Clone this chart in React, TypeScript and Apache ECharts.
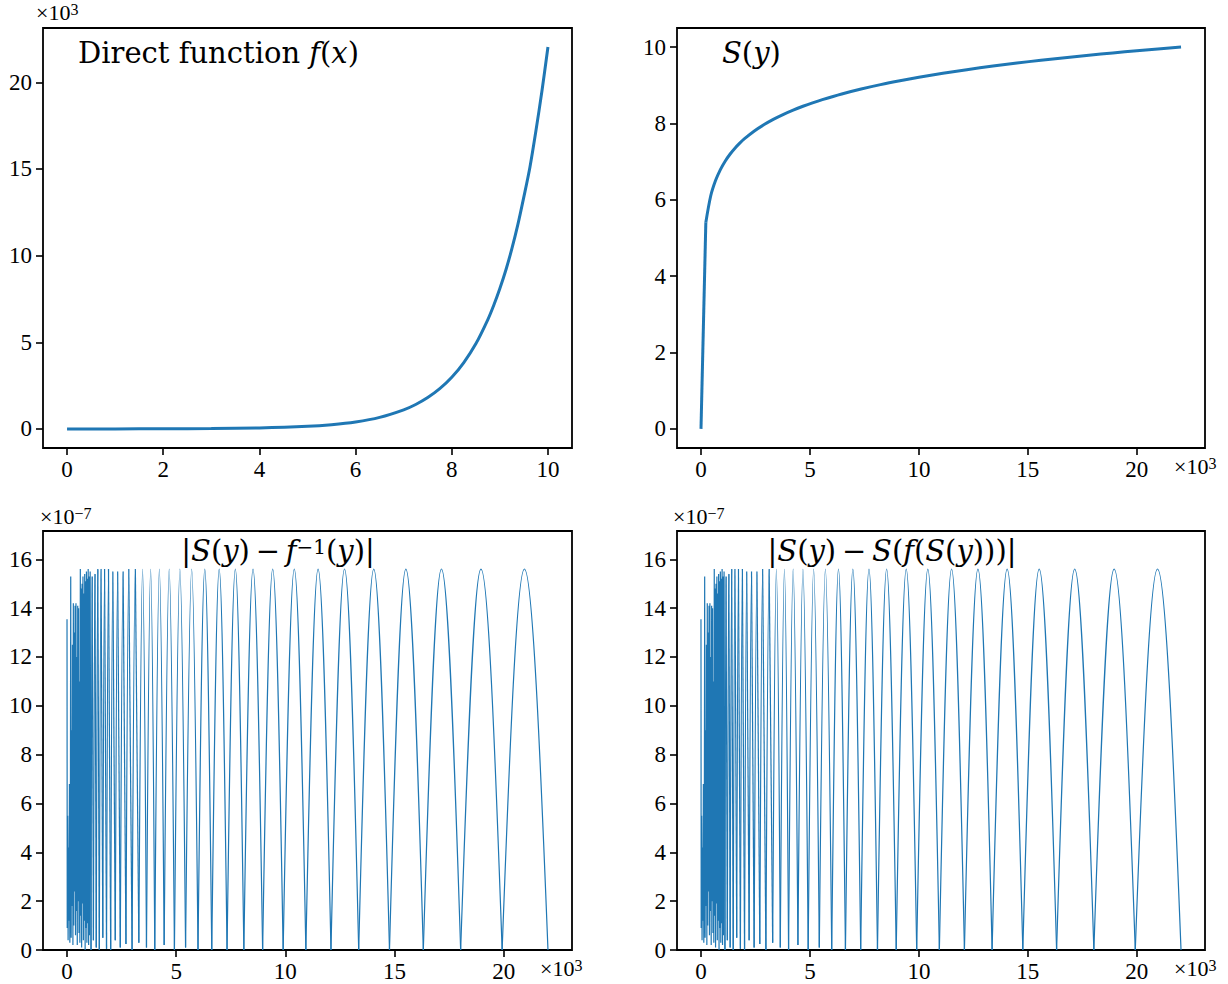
import React, { useEffect, useRef } from "react";
import * as echarts from "echarts";

const BLUE = "#1f77b4";
const SERIF = '"Liberation Serif", "DejaVu Serif", serif';
const TITLE_SERIF = '"DejaVu Serif", "Liberation Serif", serif';

// Direct function f(x); x and f(x) (in thousands)
const fxX = [0, 1, 2, 3, 4, 5, 5.5, 6, 6.5, 7, 7.25, 7.5, 7.75, 8, 8.25, 8.5, 8.75, 8.875, 9, 9.125, 9.25, 9.375, 9.5, 9.625, 9.75, 9.875, 10];
const fxY = [0.001, 0.003, 0.007, 0.02, 0.055, 0.148, 0.245, 0.403, 0.665, 1.1, 1.41, 1.81, 2.32, 2.98, 3.83, 4.91, 6.31, 7.15, 8.1, 9.17, 10.4, 11.8, 13.4, 15.1, 17.2, 19.5, 22.03];

// Inverse S(y); y in thousands. The first step is a straight jump, the rest is a smooth curve
const syJumpX = [0.001, 0.223];
const syJumpY = [0.0, 5.41];
const syX = [0.223, 0.446, 0.668, 0.891, 1.11, 1.34, 1.56, 1.78, 2.0, 2.45, 2.9, 3.34, 3.79, 4.23, 4.68, 5.12, 5.57, 6.46, 7.35, 8.24, 9.13, 10.0, 11.1, 12.2, 13.4, 14.5, 15.6, 16.7, 17.8, 18.9, 20.0, 21.1, 22.03];
const syY = [5.408, 6.1, 6.504, 6.792, 7.012, 7.2, 7.352, 7.484, 7.601, 7.804, 7.972, 8.114, 8.24, 8.35, 8.451, 8.541, 8.625, 8.773, 8.902, 9.017, 9.119, 9.21, 9.315, 9.409, 9.503, 9.582, 9.655, 9.723, 9.787, 9.847, 9.903, 9.957, 10.0];

// Error, low-y part where the samples alias (y in thousands, error in 1e-7)
const errDenseX = [0.0, 0.01, 0.03, 0.05, 0.07, 0.09, 0.11, 0.13, 0.15, 0.17, 0.19, 0.21, 0.23, 0.25, 0.27, 0.29, 0.31, 0.33, 0.35, 0.37, 0.39, 0.41, 0.43, 0.45, 0.47, 0.49, 0.51, 0.53, 0.55, 0.57, 0.59, 0.61, 0.63, 0.65, 0.67, 0.69, 0.71, 0.73, 0.75, 0.77, 0.79, 0.81, 0.83, 0.85, 0.87, 0.89, 0.91, 0.93, 0.95, 0.97, 0.99, 1.01, 1.03, 1.06, 1.1];
const errDenseY = [13.55, 0.9, 5.5, 0.4, 4.2, 1.2, 6.8, 0.3, 2.9, 15.3, 0.5, 9.0, 1.8, 12.5, 0.2, 14.2, 1.0, 13.0, 2.4, 14.1, 0.6, 14.2, 1.6, 12.0, 0.2, 14.1, 2.0, 14.0, 0.7, 11.0, 0.3, 15.6, 1.4, 14.8, 0.1, 15.0, 1.9, 15.3, 0.4, 14.6, 1.2, 15.4, 0.0, 15.1, 0.9, 15.5, 0.3, 15.2, 1.1, 15.6, 0.2, 15.3, 0.6, 15.5, 0.0];

// Error lobes: zero positions, low values there, peak positions and peak heights
const errZeros = [1.1, 1.21, 1.34, 1.48, 1.64, 1.81, 2.0, 2.21, 2.44, 2.7, 2.98, 3.29, 3.64, 4.02, 4.45, 4.92, 5.43, 6.0, 6.63, 7.33, 8.1, 8.96, 9.9, 10.94, 12.09, 13.36, 14.77, 16.32, 18.03, 19.93, 22.03];
const errZeroVal = [0.0, 0.4, 0.1, 0.0, 0.5, 0.05, 0.0, 0.4, 0.1, 0.25, 0.0, 0.3, 0.1, 0.0, 0.2, 0.0, 0.1, 0.0, 0.0, 0.0, 0.0, 0.0, 0.0, 0.0, 0.0, 0.0, 0.0, 0.0, 0.0, 0.0, 0.0];
const errPeaks = [1.15, 1.28, 1.41, 1.56, 1.72, 1.9, 2.1, 2.32, 2.57, 2.83, 3.13, 3.46, 3.83, 4.23, 4.68, 5.17, 5.71, 6.31, 6.97, 7.71, 8.52, 9.42, 10.41, 11.5, 12.71, 14.05, 15.52, 17.15, 18.96, 20.95];
const errPeakVal = [15.3, 15.4, 15.6, 15.6, 15.6, 15.6, 15.5, 15.5, 15.5, 15.6, 15.6, 15.6, 15.6, 15.6, 15.6, 15.6, 15.6, 15.6, 15.6, 15.6, 15.6, 15.6, 15.6, 15.6, 15.6, 15.6, 15.6, 15.6, 15.6, 15.6];

// Tick values
const ticksX10 = [0, 2, 4, 6, 8, 10];
const ticksK = [0, 5, 10, 15, 20];
const ticksS = [0, 2, 4, 6, 8, 10];
const ticksErr = [0, 2, 4, 6, 8, 10, 12, 14, 16];

const pairs = (xs: number[], ys: number[]) => xs.map((x, i) => [x, ys[i]]);

const lobes = errPeaks.map((p, i) => [errZeros[i], p, errZeros[i + 1], errPeakVal[i], errZeroVal[i], errZeroVal[i + 1]]);

// Each lobe is drawn as two cubic arcs: steep at the zeros, flat at the crest
const K = Math.PI / 6;
function renderLobe(_params: any, api: any) {
  const a = api.coord([api.value(0), api.value(4)]);
  const p = api.coord([api.value(1), api.value(3)]);
  const b = api.coord([api.value(2), api.value(5)]);
  const style = { stroke: BLUE, lineWidth: 1.2, fill: "none" };
  const dx1 = p[0] - a[0];
  const dx2 = b[0] - p[0];
  return {
    type: "group",
    children: [
      {
        type: "bezierCurve",
        shape: { x1: a[0], y1: a[1], cpx1: a[0] + dx1 / 3, cpy1: a[1] + (p[1] - a[1]) * K, cpx2: a[0] + (2 * dx1) / 3, cpy2: p[1], x2: p[0], y2: p[1] },
        style,
      },
      {
        type: "bezierCurve",
        shape: { x1: p[0], y1: p[1], cpx1: p[0] + dx2 / 3, cpy1: p[1], cpx2: p[0] + (2 * dx2) / 3, cpy2: b[1] + (p[1] - b[1]) * K, x2: b[0], y2: b[1] },
        style,
      },
    ],
  };
}

const TICK_FONT = 23;

function axis(gridIndex: number, min: number, max: number, ticks: number[], margin: number) {
  return {
    type: "value",
    gridIndex,
    min,
    max,
    axisLine: { show: false, onZero: false },
    splitLine: { show: false },
    axisTick: { show: true, length: 7, lineStyle: { color: "#000", width: 1.6 }, customValues: ticks },
    axisLabel: {
      customValues: ticks,
      margin,
      color: "#000",
      fontFamily: SERIF,
      fontSize: TICK_FONT,
      formatter: (v: number) => String(v),
    },
  };
}

const gridBox = { show: true, borderColor: "#000", borderWidth: 1.8, backgroundColor: "transparent", containLabel: false };

const mathRich = {
  r: { fontFamily: TITLE_SERIF, fontSize: 29 },
  i: { fontFamily: TITLE_SERIF, fontSize: 29, fontStyle: "italic" },
  s: { fontFamily: TITLE_SERIF, fontSize: 20, verticalAlign: "top" },
};

const offRich = {
  a: { fontFamily: SERIF, fontSize: 22 },
  s: { fontFamily: SERIF, fontSize: 16, verticalAlign: "top" },
};

function text(x: number, y: number, str: string, rich: any, align = "left") {
  return {
    type: "text",
    x,
    y,
    style: { text: str, rich, fill: "#000", align, verticalAlign: "middle" },
  };
}

const curve = { showSymbol: false, lineStyle: { color: BLUE, width: 3 } };
const thin = { showSymbol: false, lineStyle: { color: BLUE, width: 1.2 } };

export default function App() {
  const ref = useRef<HTMLDivElement>(null);
  useEffect(() => {
    if (!ref.current) return;
    const chart = echarts.init(ref.current, undefined, { renderer: "svg" });
    chart.setOption({
      animation: false,
      backgroundColor: "#fff",
      grid: [
        { left: 43, top: 28, width: 529, height: 420, ...gridBox },
        { left: 677, top: 28, width: 528, height: 420, ...gridBox },
        { left: 43, top: 531, width: 529, height: 419, ...gridBox },
        { left: 677, top: 531, width: 528, height: 419, ...gridBox },
      ],
      xAxis: [
        axis(0, -0.5, 10.5, ticksX10, 10),
        axis(1, -1.1, 23.13, ticksK, 10),
        axis(2, -1.1, 23.13, ticksK, 10),
        axis(3, -1.1, 23.13, ticksK, 10),
      ],
      yAxis: [
        axis(0, -1.1, 23.13, ticksK, 11),
        axis(1, -0.5, 10.5, ticksS, 11),
        axis(2, 0, 17.16, ticksErr, 11),
        axis(3, 0, 17.16, ticksErr, 11),
      ],
      series: [
        { type: "line", xAxisIndex: 0, yAxisIndex: 0, data: pairs(fxX, fxY), smooth: 0.3, ...curve },
        { type: "line", xAxisIndex: 1, yAxisIndex: 1, data: pairs(syJumpX, syJumpY), ...curve },
        { type: "line", xAxisIndex: 1, yAxisIndex: 1, data: pairs(syX, syY), smooth: 0.3, ...curve },
        { type: "line", xAxisIndex: 2, yAxisIndex: 2, data: pairs(errDenseX, errDenseY), ...thin },
        { type: "custom", xAxisIndex: 2, yAxisIndex: 2, data: lobes, renderItem: renderLobe, clip: true },
        { type: "line", xAxisIndex: 3, yAxisIndex: 3, data: pairs(errDenseX, errDenseY), ...thin },
        { type: "custom", xAxisIndex: 3, yAxisIndex: 3, data: lobes, renderItem: renderLobe, clip: true },
      ],
      graphic: [
        text(78, 53, "{r|Direct function }{i|f}{r|(}{i|x}{r|)}", mathRich),
        text(722, 53, "{i|S}{r|(}{i|y}{r|)}", mathRich),
        text(278, 551, "{r||}{i|S}{r|(}{i|y}{r|)\u2009−\u2009}{i|f}{s|−1}{r|(}{i|y}{r|)|}", mathRich, "center"),
        text(892, 551, "{r||}{i|S}{r|(}{i|y}{r|)\u2009−\u2009}{i|S}{r|(}{i|f}{r|(}{i|S}{r|(}{i|y}{r|)))|}", mathRich, "center"),
        text(36, 12, "{a|×10}{s|3}", offRich),
        text(1174, 466, "{a|×10}{s|3}", offRich),
        text(540, 968, "{a|×10}{s|3}", offRich),
        text(1174, 968, "{a|×10}{s|3}", offRich),
        text(40, 516, "{a|×10}{s|−7}", offRich),
        text(673, 516, "{a|×10}{s|−7}", offRich),
      ],
    });
    return () => chart.dispose();
  }, []);
  return <div ref={ref} style={{ position: "absolute", left: 0, top: 0, width: 1228, height: 984 }} />;
}
